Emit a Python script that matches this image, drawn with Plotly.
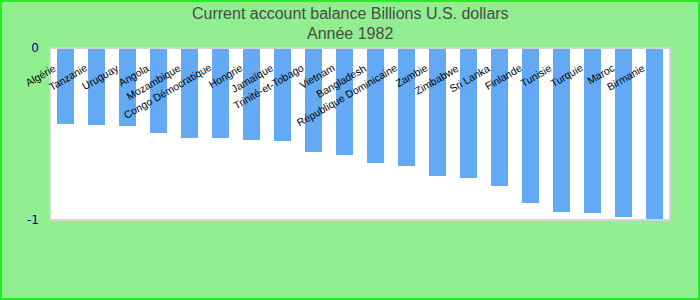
import plotly.graph_objects as go

categories = ["Algérie", "Tanzanie", "Uruguay", "Angola", "Mozambique",
              "Congo Démocratique", "Hongrie", "Jamaïque", "Trinité-et-Tobago",
              "Vietnam", "Bangladesh", "République Dominicaine", "Zambie",
              "Zimbabwe", "Sri Lanka", "Finlande", "Tunisie", "Turquie",
              "Maroc", "Birmanie"]
values = [-0.442, -0.448, -0.453, -0.494, -0.523, -0.523, -0.535, -0.541,
          -0.605, -0.622, -0.669, -0.686, -0.744, -0.756, -0.802, -0.901,
          -0.953, -0.959, -0.983, -1.0]
y_ticks = [0, -1]
title_lines = ["Current account balance Billions U.S. dollars", "Année 1982"]

PL, PT, PW, PH = 50, 48, 620, 172


def py(p):
    return (PT + PH - p) / PH


def px(p):
    return (p - PL) / PW


fig = go.Figure()
fig.add_trace(go.Bar(x=categories, y=values, marker_color="#63a9f4",
                     marker_line_width=0))

label_font = dict(family="Liberation Sans, Arial", size=10.5, color="black")
annotations = [
    dict(text=c, x=c, xref="x", y=py(60), yref="paper", xanchor="right",
         yanchor="top", textangle=-30, showarrow=False, xshift=-6,
         font=label_font, borderpad=0)
    for c in categories
]

title_font = dict(family="Liberation Sans, Arial", size=16, color="#4a4a4a")
annotations += [
    dict(text=title_lines[0], xref="paper", yref="paper", x=px(350), y=py(13),
         xanchor="center", yanchor="middle", showarrow=False, font=title_font),
    dict(text=title_lines[1], xref="paper", yref="paper", x=px(350), y=py(33),
         xanchor="center", yanchor="middle", showarrow=False, font=title_font),
]

fig.update_layout(
    width=700, height=300,
    margin=dict(l=PL, r=700 - PL - PW, t=PT, b=300 - PT - PH),
    paper_bgcolor="#90EE90", plot_bgcolor="white",
    showlegend=False, bargap=0.45,
    xaxis=dict(range=[-0.5, 19.5], showticklabels=False, showgrid=False,
               ticks="", showline=False, zeroline=False),
    yaxis=dict(range=[-1, 0], tickvals=y_ticks, ticktext=["0", "-1"],
               showgrid=False, zeroline=False, ticks="", showline=False,
               ticklabelstandoff=10,
               tickfont=dict(family="DejaVu Sans", size=12, color="#00008B")),
    annotations=annotations,
    shapes=[
        dict(type="rect", xref="paper", yref="paper", x0=0, x1=1, y0=0, y1=1,
             line=dict(color="#d3d3d3", width=2), layer="above"),
        dict(type="rect", xref="paper", yref="paper",
             x0=px(1), x1=px(699), y0=py(299), y1=py(1),
             line=dict(color="#22ee22", width=2)),
    ],
)

fig.write_html("out.html")
